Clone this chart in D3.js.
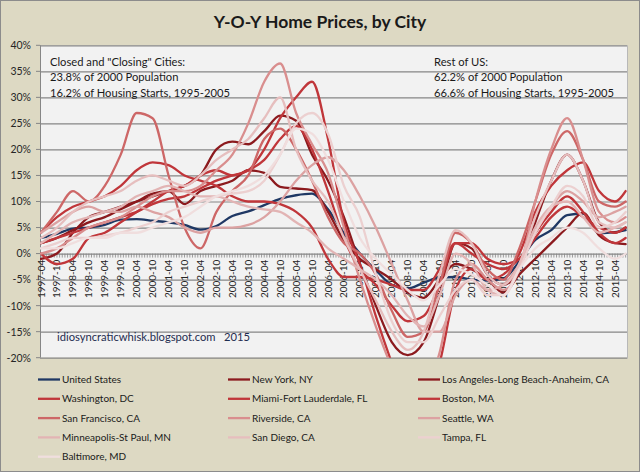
<!DOCTYPE html>
<html><head><meta charset="utf-8">
<script src="https://cdn.jsdelivr.net/npm/d3@7"></script>
<style>body{margin:0;background:#fff}svg{display:block}</style>
</head><body><svg id="c" width="640" height="472"></svg>
<script>
// ---- data ----
const dates = ["1997-04","1997-10","1998-04","1998-10","1999-04","1999-10","2000-04","2000-10","2001-04","2001-10",
"2002-04","2002-10","2003-04","2003-10","2004-04","2004-10","2005-04","2005-10","2006-04","2006-10",
"2007-04","2007-10","2008-04","2008-10","2009-04","2009-10","2010-04","2010-10","2011-04","2011-10",
"2012-04","2012-10","2013-04","2013-10","2014-04","2014-10","2015-04","2015-08"];
const tickLabels = ["1997-04","1997-10","1998-04","1998-10","1999-04","1999-10","2000-04","2000-10","2001-04","2001-10",
"2002-04","2002-10","2003-04","2003-10","2004-04","2004-10","2005-04","2005-10","2006-04","2006-10",
"2007-04","2007-10","2008-04","2008-10","2009-04","2009-10","2010-04","2010-10","2011-04","2011-10",
"2012-04","2012-10","2013-04","2013-10","2014-04","2014-10","2015-04"];
const yTicks = [-20,-15,-10,-5,0,5,10,15,20,25,30,35,40];
const cities = ["United States","New York, NY","Los Angeles-Long Beach-Anaheim, CA","Washington, DC",
"Miami-Fort Lauderdale, FL","Boston, MA","San Francisco, CA","Riverside, CA","Seattle, WA",
"Minneapolis-St Paul, MN","San Diego, CA","Tampa, FL","Baltimore, MD"];
const colors = ["#1f3864","#8c1a1e","#8c1a1e","#c0363a","#c0363a","#c0363a","#cd6767","#d98e8e","#dca2a2",
"#e2b4b4","#e6bebe","#ecd0d0","#f0dede"];

const unitedStates = [3.0,3.8,4.8,5.0,5.5,6.5,6.6,6.3,6.0,5.5,4.6,5.3,7.2,8.1,9.3,10.5,11.2,11.5,8.5,3.9,0.0,-3.2,-6.0,-6.7,-5.6,-4.6,-4.5,-5.0,-5.2,-4.8,-1.5,2.6,4.5,7.4,7.7,3.9,4.1,4.5];
const newYork = [2,3,4.5,6,7,8.5,10,11.5,12,9.5,12,13,14,16,15.5,12.8,12.5,12.2,8,2.5,-1,-3,-5,-7.5,-8.5,-5,-2,-3,-5,-7.5,-4,-1,2,5,7.8,3.5,2,1.8];
const losAngeles = [-1,0,4,7,8,9,10,11,12,13,15,20,21.5,21,23.5,26.5,25.5,19,14,7,-2,-10,-17,-19.5,-17,-8,2,1,-4,-6,-3,6,14,19,14,6,4,5];
const washington = [0,-2,-1,3,4,6,8,10,12,13,15,16,15,16,18,22,24.5,20,12,3,-3,-6,-10,-13,-12,-6,2,2,-1,-2,-1,4,8,11,8,4,2,3];
const miami = [2,3,4,5,6,7,8,9.5,10.5,11,12.5,14,15,16,20,26,30,33,22,6,-2,-12,-21,-29,-28,-21,-7,-3,-5,-4,0,8,13,16,17.5,12,10,12];
const boston = [4,7,9,10,11,13,16,17.5,17,15,14,13,11,10,10,9.5,8,5,-1,-4.5,-4.5,-5,-6,-7,-7,-3,2,0,-2,-3,-1,3,7,9,7,5,4,5];
const sanFrancisco = [4,8,12,10,13,19,27,26,15,5,1,8,12,15,22,24,20,14,7,2,0,-4,-11,-16,-15,-6,4,2,-3,-5,1,10,19,23.5,18,10,9,10];
const riverside = [0,1,3,5,6,7,9,11,12,12,13,16,19,25,33,36.5,27,21,15.5,5,-5,-14,-22,-30,-27,-19,-5,-2,-5,-7,-3,10,20,26,18,8,6,7];
const seattle = [4,6,8,9,8,8,9,8,7,5,4,5,5,5.5,7,10,14,17,18.5,16,11,5,-2,-9,-15,-15,-8,-5,-7,-6,-2,4,9,12,10,7,8,9];
const minneapolis = [2,4,6,7,8,9,11,12,13,12,11,11,10,9,8.5,8,6,4,1,-1,-3,-5,-8,-12,-14,-8,0,-2,-7,-8,-2,5,9,10,7,4,5,6];
const sanDiego = [3,5,8,10,11,12,14,15,14,13,15,18,20,22,26,30,20,14,10,3,-3,-9,-15,-18.5,-15,-4,4.5,2,-4,-6,-2,7,14,19,14,6,5,6];
const tampa = [1,2,3,3,3.5,4,5,6,8,9,10,11,11.5,12,14,19,25,27,23,13,7,-4,-13,-17,-17,-12,-7,-5,-8,-8,-3,4,9,13,11,5,6,8];
const baltimore = [1,1,2,3,3,4,4,5,6,7,9,11,12,13,15,19,24,23,18,10,3,-1,-4,-7,-9,-6,-3,-4,-6,-8,-3,1,3,5,4,1,-1,0];

const seriesValues = [unitedStates,newYork,losAngeles,washington,miami,boston,sanFrancisco,riverside,seattle,
minneapolis,sanDiego,tampa,baltimore];

// ---- drawing ----
const FONT = "Lato, 'Open Sans', sans-serif";
const svg = d3.select("#c");
const monthIdx = s => { const [y,m] = s.split("-").map(Number); return (y-1997)*12 + (m-4); };
const PL = 40, PR = 627, PT = 45.3, PB = 357.7;
const x = d3.scaleLinear().domain([0, 216]).range([41, 615]);
const y = d3.scaleLinear().domain([-20, 40]).range([PB, PT]);

svg.append("rect").attr("x",0.5).attr("y",0.5).attr("width",639).attr("height",471)
  .attr("fill","#ddd9c3").attr("stroke","#8c8c8c");

svg.append("rect").attr("x",PL).attr("y",PT).attr("width",PR-PL).attr("height",PB-PT).attr("fill","#f2f2f2");
svg.append("line").attr("x1",PR+0.5).attr("x2",PR+0.5).attr("y1",PT).attr("y2",PB+1).attr("stroke","#b8b8b8");

// gridlines + y labels
const yAxis = d3.axisLeft(y).tickValues(yTicks).tickFormat(d => d + "%").tickSize(-(PR-PL)).tickPadding(9);
const gy = svg.append("g").attr("transform",`translate(${PL},0)`).call(yAxis);
gy.select(".domain").remove();
gy.selectAll(".tick line").attr("stroke","#868686").attr("stroke-width",1.2);
gy.selectAll(".tick text").attr("font-family",FONT).attr("font-size",10.5).attr("fill","#262626");
svg.append("g").selectAll("line").data(yTicks).join("line")
  .attr("x1",PL-4).attr("x2",PL).attr("y1",d=>y(d)).attr("y2",d=>y(d)).attr("stroke","#868686");
svg.append("line").attr("x1",PL+0.5).attr("x2",PL+0.5).attr("y1",PT).attr("y2",PB).attr("stroke","#868686");

// x axis at 0%
const months = d3.range(0, 221);
const gx = svg.append("g").attr("transform",`translate(0,${y(0)})`);
gx.selectAll("line.m").data(months).join("line").attr("class","m")
  .attr("x1",d=>x(d)).attr("x2",d=>x(d)).attr("y1",0).attr("y2",4).attr("stroke","#868686").attr("stroke-width",0.8);
gx.selectAll("text").data(tickLabels).join("text")
  .attr("transform",d=>`translate(${x(monthIdx(d))+3.5},6) rotate(-90)`)
  .attr("text-anchor","end").attr("font-family",FONT).attr("font-size",10).attr("fill","#262626")
  .text(d=>d);

// lines
svg.append("clipPath").attr("id","clip").append("rect")
  .attr("x",PL).attr("y",PT).attr("width",PR-PL).attr("height",PB-PT);
const line = d3.line().x((d,i)=>x(monthIdx(dates[i]))).y(d=>y(d)).curve(d3.curveMonotoneX);
svg.append("g").attr("clip-path","url(#clip)").selectAll("path").data(seriesValues).join("path")
  .attr("d",d=>line(d)).attr("fill","none").attr("stroke",(d,i)=>colors[i])
  .attr("stroke-width",2.3).attr("stroke-linejoin","round").attr("stroke-linecap","round");

// title and annotations
svg.append("text").attr("x",320).attr("y",28).attr("text-anchor","middle")
  .attr("font-family",FONT).attr("font-weight","bold").attr("font-size",17.5).attr("fill","#1a1a1a")
  .text("Y-O-Y Home Prices, by City");
const leftNote = ["Closed and \"Closing\" Cities:","23.8% of 2000 Population","16.2% of Housing Starts, 1995-2005"];
const rightNote = ["Rest of US:","62.2% of 2000 Population","66.6% of Housing Starts, 1995-2005"];
[[50,leftNote],[434,rightNote]].forEach(([tx,lines])=>{
  svg.append("g").selectAll("text").data(lines).join("text")
    .attr("x",tx).attr("y",(d,i)=>65.5+i*15.5).attr("font-family",FONT).attr("font-size",11.2).attr("fill","#1a1a1a")
    .text(d=>d);
});
svg.append("text").attr("x",57).attr("y",341).attr("font-family",FONT).attr("font-size",11.2)
  .attr("fill","#1f2d50").style("white-space","pre").text("idiosyncraticwhisk.blogspot.com   2015");

// legend
const colX = [38, 228, 418];
const lg = svg.append("g").selectAll("g").data(cities).join("g")
  .attr("transform",(d,i)=>`translate(${colX[i%3]},${379.5 + Math.floor(i/3)*19.3})`);
lg.append("line").attr("x1",0).attr("x2",22).attr("y1",0).attr("y2",0)
  .attr("stroke",(d,i)=>colors[i]).attr("stroke-width",2.3);
lg.append("text").attr("x",24).attr("y",3.6).attr("font-family",FONT).attr("font-size",10)
  .attr("fill","#1a1a1a").text(d=>d);
</script></body></html>
